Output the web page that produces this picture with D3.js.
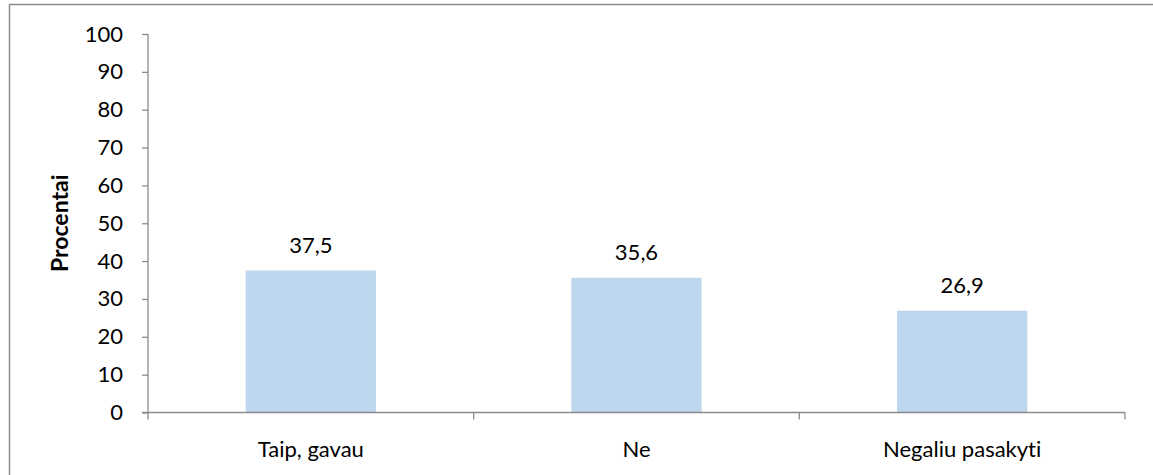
<!DOCTYPE html>
<html>
<head>
<meta charset="utf-8">
<script src="https://cdn.jsdelivr.net/npm/d3@7"></script>
<style>
  body { margin: 0; background: #fff; }
  text { font-family: Lato, "Open Sans", sans-serif; fill: #000; font-variant-ligatures: none; }
</style>
</head>
<body>
<div id="root"></div>
<script>
var categories = ['Taip, gavau', 'Ne', 'Negaliu pasakyti'];
var values = [37.5, 35.6, 26.9];
var yTicks = [0, 10, 20, 30, 40, 50, 60, 70, 80, 90, 100];
var yTitle = 'Procentai';

var w = 1153, h = 475;
var fontSize = '22px';
var svg = d3.select('#root').append('svg').attr('width', w).attr('height', h);

// chart frame (runs past the right and bottom edges)
svg.append('rect')
    .attr('x', 9.5).attr('y', 4.5)
    .attr('width', w).attr('height', h)
    .attr('fill', 'none')
    .attr('stroke', '#8c8c8c')
    .attr('stroke-width', 1.5);

var plotL = 148, plotR = 1125, plotT = 34, plotB = 412.5;

var x = d3.scaleBand().domain(categories).range([plotL, plotR]).paddingInner(0).paddingOuter(0);
var y = d3.scaleLinear().domain([0, 100]).range([plotB, plotT]);
var barW = x.bandwidth() * 0.4;

// bars
svg.append('g')
    .selectAll('rect')
    .data(values)
    .enter()
    .append('rect')
    .attr('x', function (d, i) { return x(categories[i]) + x.bandwidth() / 2 - barW / 2; })
    .attr('y', function (d) { return y(d); })
    .attr('width', barW)
    .attr('height', function (d) { return y(0) - y(d); })
    .attr('fill', '#bdd7ee');

// value labels
svg.append('g')
    .selectAll('text')
    .data(values)
    .enter()
    .append('text')
    .attr('x', function (d, i) { return x(categories[i]) + x.bandwidth() / 2; })
    .attr('y', function (d) { return y(d) - 18; })
    .attr('text-anchor', 'middle')
    .style('font-size', fontSize)
    .text(function (d) { return d.toFixed(1).replace('.', ','); });

// y axis
var yAxis = d3.axisLeft(y).tickValues(yTicks).tickSize(6).tickPadding(19);
var gy = svg.append('g').attr('transform', 'translate(' + plotL + ',0)').call(yAxis);
gy.select('.domain').attr('stroke', '#8c8c8c').attr('stroke-width', 1.3).attr('d', 'M0,' + plotT + 'V' + plotB);
gy.selectAll('.tick line').attr('stroke', '#8c8c8c').attr('stroke-width', 1.3);
gy.selectAll('.tick text').style('font-size', fontSize).style('font-family', 'Lato, "Open Sans", sans-serif').attr('fill', '#000');

// x axis
var gx = svg.append('g').attr('transform', 'translate(0,' + plotB + ')');
gx.append('line')
    .attr('x1', plotL - 6).attr('x2', plotR)
    .attr('stroke', '#8c8c8c').attr('stroke-width', 1.3);
gx.selectAll('.cat-tick')
    .data(categories.concat(['end']))
    .enter()
    .append('line')
    .attr('class', 'cat-tick')
    .attr('x1', function (d, i) { return i < categories.length ? x(d) : plotR; })
    .attr('x2', function (d, i) { return i < categories.length ? x(d) : plotR; })
    .attr('y1', 0).attr('y2', 7)
    .attr('stroke', '#8c8c8c').attr('stroke-width', 1.3);
gx.selectAll('text')
    .data(categories)
    .enter()
    .append('text')
    .attr('x', function (d) { return x(d) + x.bandwidth() / 2; })
    .attr('y', 44)
    .attr('text-anchor', 'middle')
    .style('font-size', fontSize)
    .text(function (d) { return d; });

// y title
svg.append('text')
    .attr('transform', 'translate(68,' + (plotT + plotB) / 2 + ') rotate(-90)')
    .attr('text-anchor', 'middle')
    .style('font-size', '23px')
    .style('font-weight', 'bold')
    .text(yTitle);
</script>
</body>
</html>
